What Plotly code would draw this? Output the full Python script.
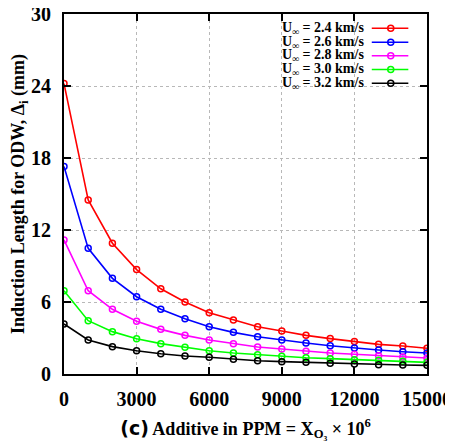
import plotly.graph_objects as go

# Additive concentration (PPM)
ppm = [0, 1000, 2000, 3000, 4000, 5000, 6000, 7000, 8000, 9000,
       10000, 11000, 12000, 13000, 14000, 15000]

# Induction length (mm) for each free-stream velocity
ind_24 = [24.2, 14.5, 10.9, 8.7, 7.1, 6.0, 5.1, 4.5, 3.94, 3.58,
          3.22, 2.95, 2.70, 2.47, 2.33, 2.14]
ind_26 = [17.3, 10.47, 7.97, 6.44, 5.39, 4.61, 3.94, 3.47, 3.11, 2.83,
          2.58, 2.36, 2.17, 2.00, 1.86, 1.75]
ind_28 = [11.17, 6.94, 5.39, 4.39, 3.72, 3.22, 2.83, 2.53, 2.25, 2.08,
          1.89, 1.75, 1.64, 1.53, 1.42, 1.33]
ind_30 = [6.94, 4.44, 3.53, 2.94, 2.53, 2.22, 1.94, 1.75, 1.61, 1.47,
          1.36, 1.28, 1.19, 1.14, 1.06, 0.97]
ind_32 = [4.17, 2.83, 2.28, 1.94, 1.69, 1.50, 1.39, 1.22, 1.11, 1.03,
          0.97, 0.89, 0.83, 0.78, 0.75, 0.72]

series_labels = ['2.4', '2.6', '2.8', '3.0', '3.2']
series_values = [ind_24, ind_26, ind_28, ind_30, ind_32]
series_colors = ['#ff0000', '#0000ff', '#ff00ff', '#00ff00', '#000000']

x_ticks = [0, 3000, 6000, 9000, 12000, 15000]
y_ticks = [0, 6, 12, 18, 24, 30]

serif = 'Liberation Serif'

fig = go.Figure()
for lab, vals, col in zip(series_labels, series_values, series_colors):
    fig.add_trace(go.Scatter(
        x=ppm, y=vals, mode='lines+markers', name=lab,
        line=dict(color=col, width=1.6),
        marker=dict(symbol='circle-open', size=6, color=col, line=dict(width=1.5)),
        showlegend=False,
    ))

# manual legend (text on the left, sample on the right)
row_y = [28.3, 42.3, 55.8, 69.5, 83.3]
for lab, col, ry in zip(series_labels, series_colors, row_y):
    yp = 1 - (ry - 14) / 360
    fig.add_annotation(
        xref='paper', yref='paper', x=(366 - 63.5) / 363.5, y=yp,
        xanchor='right', yanchor='middle', showarrow=False,
        text=f'U<sub>∞</sub> = {lab} km/s',
        font=dict(family=serif, size=14, color='black', weight='bold'),
    )
    fig.add_shape(type='line', xref='paper', yref='paper',
                  x0=(371.7 - 63.5) / 363.5, x1=(408.3 - 63.5) / 363.5,
                  y0=yp, y1=yp, line=dict(color=col, width=1.6))
    xc = (390.7 - 63.5) / 363.5
    fig.add_shape(type='circle', xref='paper', yref='paper',
                  xsizemode='pixel', ysizemode='pixel',
                  xanchor=xc, yanchor=yp, x0=-3, x1=3, y0=-3, y1=3,
                  line=dict(color=col, width=1.5), fillcolor='rgba(0,0,0,0)')

axis_common = dict(
    showline=True, linecolor='black', linewidth=2, mirror='allticks',
    ticks='inside', ticklen=7, tickwidth=1.5, tickcolor='black',
    showgrid=True, gridcolor='#b8b8b8', griddash='dot', gridwidth=1,
    zeroline=False, automargin=False, ticklabeloverflow='allow',
    tickfont=dict(family=serif, size=20, color='black', weight='bold'),
)

fig.update_xaxes(
    range=[0, 15000], tickvals=x_ticks, ticktext=[f'{v}' for v in x_ticks],
    ticklabelstandoff=6,
    title=dict(
        text='<span style="font-family:DejaVu Sans;font-size:19px">(c)</span> '
             'Additive in PPM = X<sub>O₃</sub> × 10<sup>6</sup>',
        font=dict(family=serif, size=18, color='black', weight='bold'),
        standoff=13),
    **axis_common,
)
fig.update_yaxes(
    range=[0, 30], tickvals=y_ticks, ticktext=[f'{v}' for v in y_ticks],
    ticklabelstandoff=7,
    title=dict(
        text='Induction Length for ODW, Δ<sub>i</sub> (mm)',
        font=dict(family=serif, size=18, color='black', weight='bold'),
        standoff=4),
    **axis_common,
)

# the page body adds an 8px offset, so margins are shifted to compensate
fig.update_layout(
    width=453, height=446,
    margin=dict(l=55.5, r=34, t=6, b=80),
    plot_bgcolor='white', paper_bgcolor='white',
)

fig.write_html('out.html')
